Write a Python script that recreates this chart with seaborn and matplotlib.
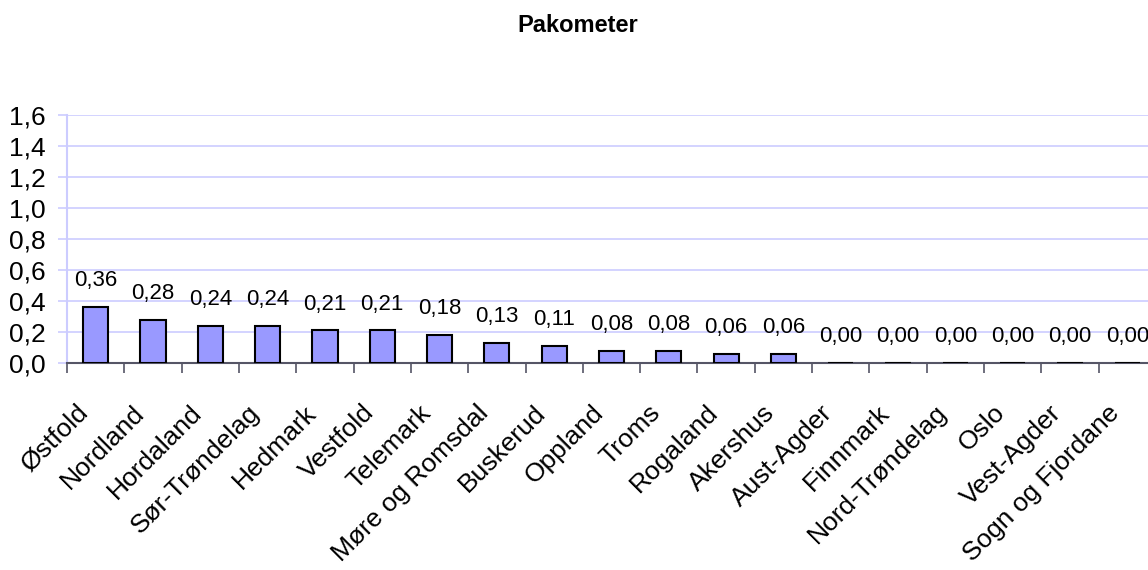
import matplotlib
matplotlib.use("Agg")
import matplotlib.pyplot as plt
import matplotlib.transforms as mtrans
import seaborn as sns
import pandas as pd
from matplotlib.ticker import FuncFormatter, MultipleLocator, FixedLocator

categories = ["Østfold", "Nordland", "Hordaland", "Sør-Trøndelag", "Hedmark", "Vestfold",
              "Telemark", "Møre og Romsdal", "Buskerud", "Oppland", "Troms", "Rogaland",
              "Akershus", "Aust-Agder", "Finnmark", "Nord-Trøndelag", "Oslo", "Vest-Agder",
              "Sogn og Fjordane"]
values = [0.36, 0.28, 0.24, 0.24, 0.21, 0.21, 0.18, 0.13, 0.11, 0.08, 0.08, 0.06, 0.06,
          0.00, 0.00, 0.00, 0.00, 0.00, 0.00]
title = "Pakometer"

df = pd.DataFrame({"fylke": categories, "verdi": values})

sns.set_theme(style="white")
plt.rcParams["font.family"] = ["Liberation Sans", "DejaVu Sans"]
plt.rcParams["text.color"] = "black"

W, H = 1148, 570
fig = plt.figure(figsize=(W / 100, H / 100), dpi=100)
left, right, top, bottom = 67, 1156, 115, 363
ax = fig.add_axes([left / W, 1 - bottom / H, (right - left) / W, (bottom - top) / H])

sns.barplot(data=df, x="fylke", y="verdi", color="#9999FF", edgecolor="black",
            linewidth=1.5, width=0.44, saturation=1, ax=ax, zorder=3)

ax.set_ylim(0, 1.6)
ax.set_xlim(-0.5, len(categories) - 0.5)
ax.yaxis.set_major_locator(MultipleLocator(0.2))
ax.yaxis.set_major_formatter(FuncFormatter(lambda v, p: f"{v:.1f}".replace(".", ",")))
ax.grid(axis="y", color="#CCCCFF", linewidth=1.2, zorder=0)
ax.grid(axis="x", visible=False)

for s in ["top", "right"]:
    ax.spines[s].set_visible(False)
ax.spines["left"].set_color("#CCCCFF")
ax.spines["left"].set_linewidth(1.5)
ax.spines["bottom"].set_color("#555566")
ax.spines["bottom"].set_linewidth(1.5)

ax.tick_params(axis="y", which="major", left=True, length=6.5, width=1.2, color="#CCCCFF",
               labelsize=19, pad=9, labelcolor="black")
# x ticks between categories
ax.xaxis.set_major_locator(FixedLocator(range(len(categories))))
ax.set_xticks([i - 0.5 for i in range(len(categories) + 1)], minor=True)
ax.tick_params(axis="x", which="major", length=0, labelsize=19, pad=0, labelcolor="black")
ax.tick_params(axis="x", which="minor", bottom=True, length=7, width=1.2, color="#555566")
ax.set_xticklabels(categories, rotation=45, ha="right", va="center", rotation_mode="anchor")
shift = mtrans.ScaledTranslation(-0.12, -0.46, fig.dpi_scale_trans)
for lbl in ax.get_xticklabels():
    lbl.set_transform(lbl.get_transform() + shift)

for i, v in enumerate(values):
    ax.annotate(f"{v:.2f}".replace(".", ","), (i, v), xytext=(0, 15), textcoords="offset points",
                ha="center", va="baseline", fontsize=16, color="black")

ax.set_xlabel("")
ax.set_ylabel("")
fig.text(578 / W, 1 - 32 / H, title, ha="center", va="baseline", fontsize=17,
         fontweight="bold", color="black")

fig.savefig("out.png", dpi=100)
